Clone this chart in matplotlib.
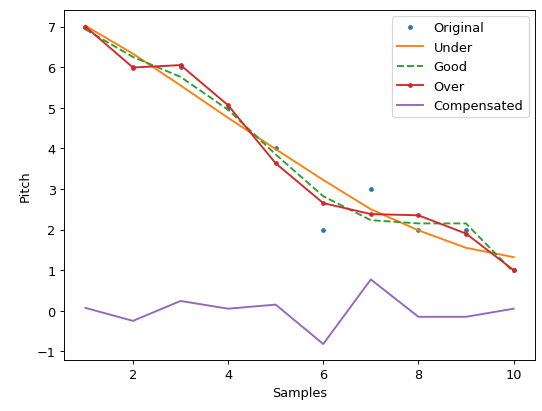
import matplotlib
matplotlib.use("Agg")
import matplotlib.pyplot as plt

samples = [1, 2, 3, 4, 5, 6, 7, 8, 9, 10]
original = [7, 6, 6, 5, 4, 2, 3, 2, 2, 1]
under = [7.02, 6.33, 5.55, 4.75, 3.98, 3.22, 2.5, 1.98, 1.55, 1.32]
good = [6.93, 6.25, 5.76, 4.95, 3.85, 2.82, 2.23, 2.15, 2.15, 0.95]
over = [7.0, 5.99, 6.05, 5.06, 3.63, 2.65, 2.38, 2.35, 1.9, 1.0]
compensated = [0.07, -0.25, 0.24, 0.05, 0.15, -0.82, 0.77, -0.15, -0.15, 0.05]

plt.rcParams['font.size'] = 11
plt.rcParams['lines.linewidth'] = 1.6

fig = plt.figure(figsize=(6.4, 4.864), dpi=84.69)
ax = fig.add_axes([0.118, 0.124, 0.869, 0.85])
ax.plot(samples, original, '.', color='C0', label='Original')
ax.plot(samples, under, '-', color='C1', label='Under')
ax.plot(samples, good, '--', color='C2', label='Good')
ax.plot(samples, over, '.-', color='C3', label='Over')
ax.plot(samples, compensated, '-', color='C4', label='Compensated')
ax.set_xlabel('Samples')
ax.set_ylabel('Pitch')
ax.legend(loc='upper right')
fig.savefig('out.png', dpi=84.69)
